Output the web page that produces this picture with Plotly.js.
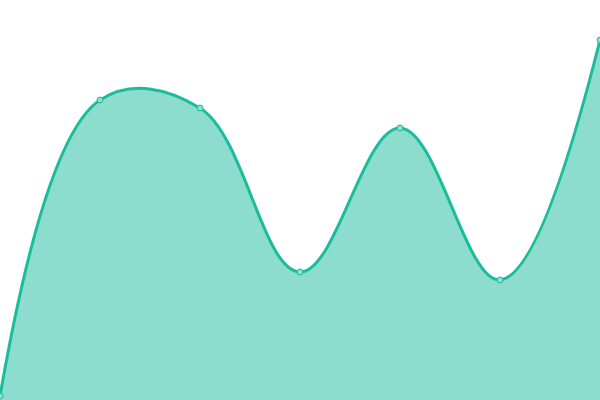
<!DOCTYPE html>
<html>
<head>
<meta charset="utf-8">
<script src="https://cdn.plot.ly/plotly-3.0.1.min.js"></script>
<style>
  html, body { margin: 0; padding: 0; background: #fff; }
  #chart { width: 600px; height: 400px; }
</style>
</head>
<body>
<div id="chart"></div>
<script>
const xs = [0, 1, 2, 3, 4, 5, 6];
const values = [1, 75, 73, 32, 68, 30, 90];

const trace = {
    x: xs,
    y: values,
    mode: "lines+markers",
    line: { shape: "spline", smoothing: 1.1, color: "#1abc9c", width: 3 },
    marker: {
        size: 6,
        color: "#8ce0cf",
        line: { color: "#1abc9c", width: 1 }
    },
    fill: "tozeroy",
    fillcolor: "rgba(26,188,156,0.5)",
    hoverinfo: "none",
    cliponaxis: false
};

const layout = {
    width: 600,
    height: 400,
    margin: { l: 0, r: 0, t: 0, b: 0, pad: 0 },
    paper_bgcolor: "#fff",
    plot_bgcolor: "#fff",
    showlegend: false,
    xaxis: { range: [0, 6], visible: false, fixedrange: true },
    yaxis: { range: [0, 100], visible: false, fixedrange: true }
};

Plotly.newPlot("chart", [trace], layout, { staticPlot: true, displayModeBar: false });
</script>
</body>
</html>
